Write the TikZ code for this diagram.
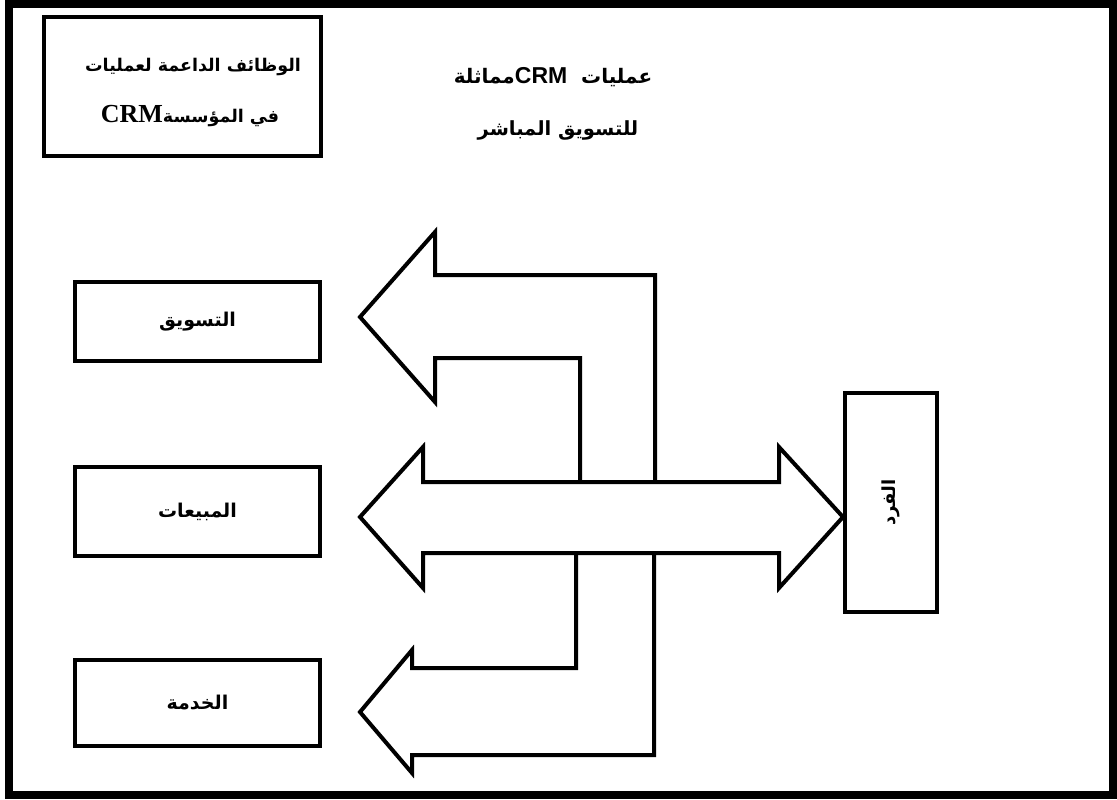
\documentclass[tikz,border=0pt]{standalone}
\usepackage{fontspec}
\newfontfamily\arabicfont[Script=Arabic]{DejaVu Sans}
\newfontfamily\crmserif{Liberation Serif}
\newfontfamily\crmsans{Liberation Sans}
\TeXXeTstate=1
\begin{document}
\begin{tikzpicture}[x=1pt,y=-1pt,
  boxnode/.style={draw=black,line width=4pt,fill=white,inner sep=0pt,
    font=\arabicfont\bfseries\fontsize{19}{22}\selectfont},
  arabictext/.style={inner sep=0pt,font=\arabicfont\bfseries\fontsize{19}{22}\selectfont},
  blockarrow/.style={draw=black,line width=4pt,fill=white,line join=miter}]
\useasboundingbox (0,0) rectangle (1117,800);
% outer frame
\draw[line width=8pt] (9,4) rectangle (1113,794.5);

% supporting functions box
\node[boxnode,minimum width=277pt,minimum height=139pt] (support) at (182.5,86.5) {};
\node[arabictext,font=\arabicfont\bfseries\fontsize{17.5}{20}\selectfont] (supporttxt1) at (193,67)
  {\beginR الوظائف الداعمة لعمليات\endR};
\node[arabictext,font=\arabicfont\bfseries\fontsize{17.5}{20}\selectfont] (supporttxt2) at (190,116)
  {\beginR في المؤسسة\beginL{\crmserif\bfseries\fontsize{26}{26}\selectfont CRM}\endL\endR};

% title
\node[arabictext,font=\arabicfont\bfseries\fontsize{20}{22}\selectfont] (title1) at (553,77)
  {\beginR عمليات\ \ \beginL{\crmsans\bfseries\fontsize{23}{24}\selectfont CRM}\endL{}مماثلة\endR};
\node[arabictext,font=\arabicfont\bfseries\fontsize{19.5}{22}\selectfont] (title2) at (558,130) {\beginR للتسويق المباشر\endR};

% departments
\node[boxnode,minimum width=245pt,minimum height=79pt] (marketing) at (197.5,321.5) {\beginR التسويق\endR};
\node[boxnode,minimum width=245pt,minimum height=89pt] (sales) at (197.5,511.5) {\beginR المبيعات\endR};
\node[boxnode,minimum width=245pt,minimum height=86pt] (service) at (197.5,703) {\beginR الخدمة\endR};

% customer
\node[boxnode,minimum width=92pt,minimum height=219pt,font=\arabicfont\bfseries\fontsize{18}{20}\selectfont] (customer) at (891,502.5)
  {\rotatebox{90}{\beginR الفرد\endR}};

% bent arrow towards marketing
\draw[blockarrow] (360,317) -- (435,232) -- (435,275) -- (655,275) -- (655,500)
  -- (580,500) -- (580,358) -- (435,358) -- (435,402) -- cycle;
% bent arrow towards service
\draw[blockarrow] (360,712) -- (412,650) -- (412,668) -- (576,668) -- (576,535)
  -- (654,535) -- (654,755) -- (412,755) -- (412,773) -- cycle;
% double arrow between sales and customer
\draw[blockarrow] (360,517) -- (423,447) -- (423,482) -- (779,482) -- (779,447)
  -- (customer.west |- 0,517) -- (779,588) -- (779,553) -- (423,553) -- (423,588) -- cycle;
\end{tikzpicture}
\end{document}
